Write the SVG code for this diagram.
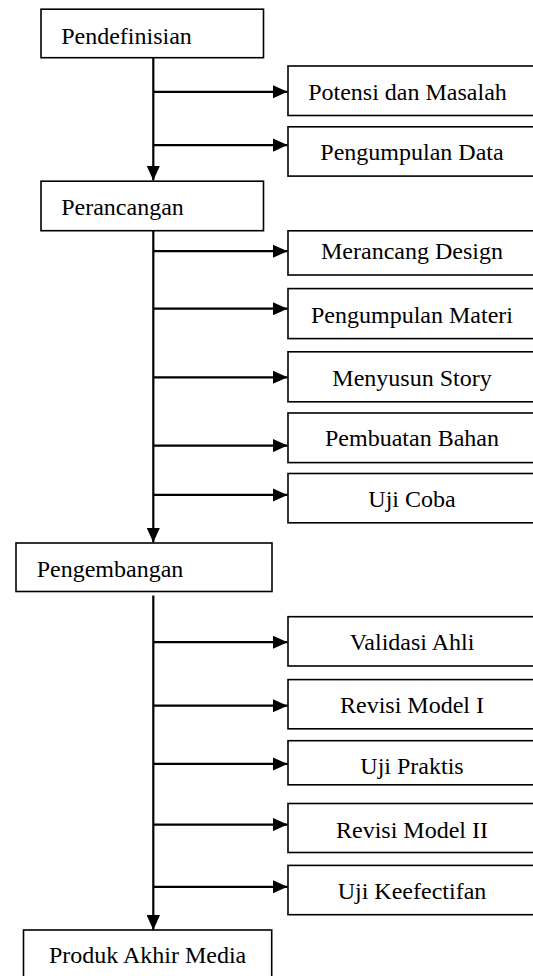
<svg xmlns="http://www.w3.org/2000/svg" width="533" height="976" viewBox="0 0 533 976">
<defs>
<marker id="ah" markerWidth="15" markerHeight="13.5" refX="15" refY="6.75" orient="auto" markerUnits="userSpaceOnUse">
<path d="M0,0 L15,6.75 L0,13.5 z" fill="#000"/>
</marker>
<style>
.box{fill:#fff;stroke:#000;stroke-width:1.6}
.t{font-family:"Liberation Serif","Times New Roman",serif;font-size:24px;fill:#000}
.c{text-anchor:middle}
.ln{stroke:#000;stroke-width:2.2;fill:none;marker-end:url(#ah)}
</style>
</defs>
<rect width="533" height="976" fill="#fff"/>
<g id="connectors">
<line class="ln" x1="153.3" y1="58" x2="153.3" y2="180.5"/>
<line class="ln" x1="153.3" y1="91.8" x2="287.5" y2="91.8"/>
<line class="ln" x1="153.3" y1="145.1" x2="287.5" y2="145.1"/>
<line class="ln" x1="153.3" y1="231" x2="153.3" y2="542.5"/>
<line class="ln" x1="153.3" y1="251.2" x2="287.5" y2="251.2"/>
<line class="ln" x1="153.3" y1="308.7" x2="287.5" y2="308.7"/>
<line class="ln" x1="153.3" y1="377.3" x2="287.5" y2="377.3"/>
<line class="ln" x1="153.3" y1="445.6" x2="287.5" y2="445.6"/>
<line class="ln" x1="153.3" y1="494.9" x2="287.5" y2="494.9"/>
<line class="ln" x1="153.3" y1="595.6" x2="153.3" y2="930"/>
<line class="ln" x1="153.3" y1="642.2" x2="287.5" y2="642.2"/>
<line class="ln" x1="153.3" y1="705.7" x2="287.5" y2="705.7"/>
<line class="ln" x1="153.3" y1="763.9" x2="287.5" y2="763.9"/>
<line class="ln" x1="153.3" y1="824.6" x2="287.5" y2="824.6"/>
<line class="ln" x1="153.3" y1="886.8" x2="287.5" y2="886.8"/>
</g>
<g id="pendefinisian"><rect class="box" x="41" y="9.2" width="222.5" height="48.5"/><text class="t" x="61.2" y="43.5">Pendefinisian</text></g>
<g id="potensi"><rect class="box" x="288" y="66" width="260" height="49.5"/><text class="t c" x="407.5" y="100.3">Potensi dan Masalah</text></g>
<g id="pengumpulan-data"><rect class="box" x="288" y="126.8" width="260" height="49.3"/><text class="t c" x="412" y="159.8">Pengumpulan Data</text></g>
<g id="perancangan"><rect class="box" x="41" y="181.2" width="222.5" height="49.5"/><text class="t" x="61.2" y="215.2">Perancangan</text></g>
<g id="merancang-design"><rect class="box" x="288" y="230.8" width="260" height="44.2"/><text class="t c" x="412" y="258.7">Merancang Design</text></g>
<g id="pengumpulan-materi"><rect class="box" x="288" y="288.6" width="260" height="50"/><text class="t c" x="412" y="322.6">Pengumpulan Materi</text></g>
<g id="menyusun-story"><rect class="box" x="288" y="351.8" width="260" height="50"/><text class="t c" x="412" y="386.2">Menyusun Story</text></g>
<g id="pembuatan-bahan"><rect class="box" x="288" y="413" width="260" height="49.6"/><text class="t c" x="412" y="445.6">Pembuatan Bahan</text></g>
<g id="uji-coba"><rect class="box" x="288" y="473.5" width="260" height="49.3"/><text class="t c" x="412" y="506.8">Uji Coba</text></g>
<g id="pengembangan"><rect class="box" x="16" y="543" width="256" height="48.5"/><text class="t" x="36.7" y="576.6">Pengembangan</text></g>
<g id="validasi-ahli"><rect class="box" x="288" y="616.7" width="260" height="49.3"/><text class="t c" x="412" y="649.6">Validasi Ahli</text></g>
<g id="revisi-model-1"><rect class="box" x="288" y="679.6" width="260" height="49.2"/><text class="t c" x="412" y="712.9">Revisi Model I</text></g>
<g id="uji-praktis"><rect class="box" x="288" y="740.7" width="260" height="44.1"/><text class="t c" x="412" y="774">Uji Praktis</text></g>
<g id="revisi-model-2"><rect class="box" x="288" y="803.5" width="260" height="49"/><text class="t c" x="412" y="837.5">Revisi Model II</text></g>
<g id="uji-keefectifan"><rect class="box" x="288" y="865.4" width="260" height="49.3"/><text class="t c" x="412" y="898.7">Uji Keefectifan</text></g>
<g id="produk-akhir-media"><rect class="box" x="23.5" y="930" width="248.2" height="60"/><text class="t c" x="147.6" y="963.3">Produk Akhir Media</text></g>
</svg>
